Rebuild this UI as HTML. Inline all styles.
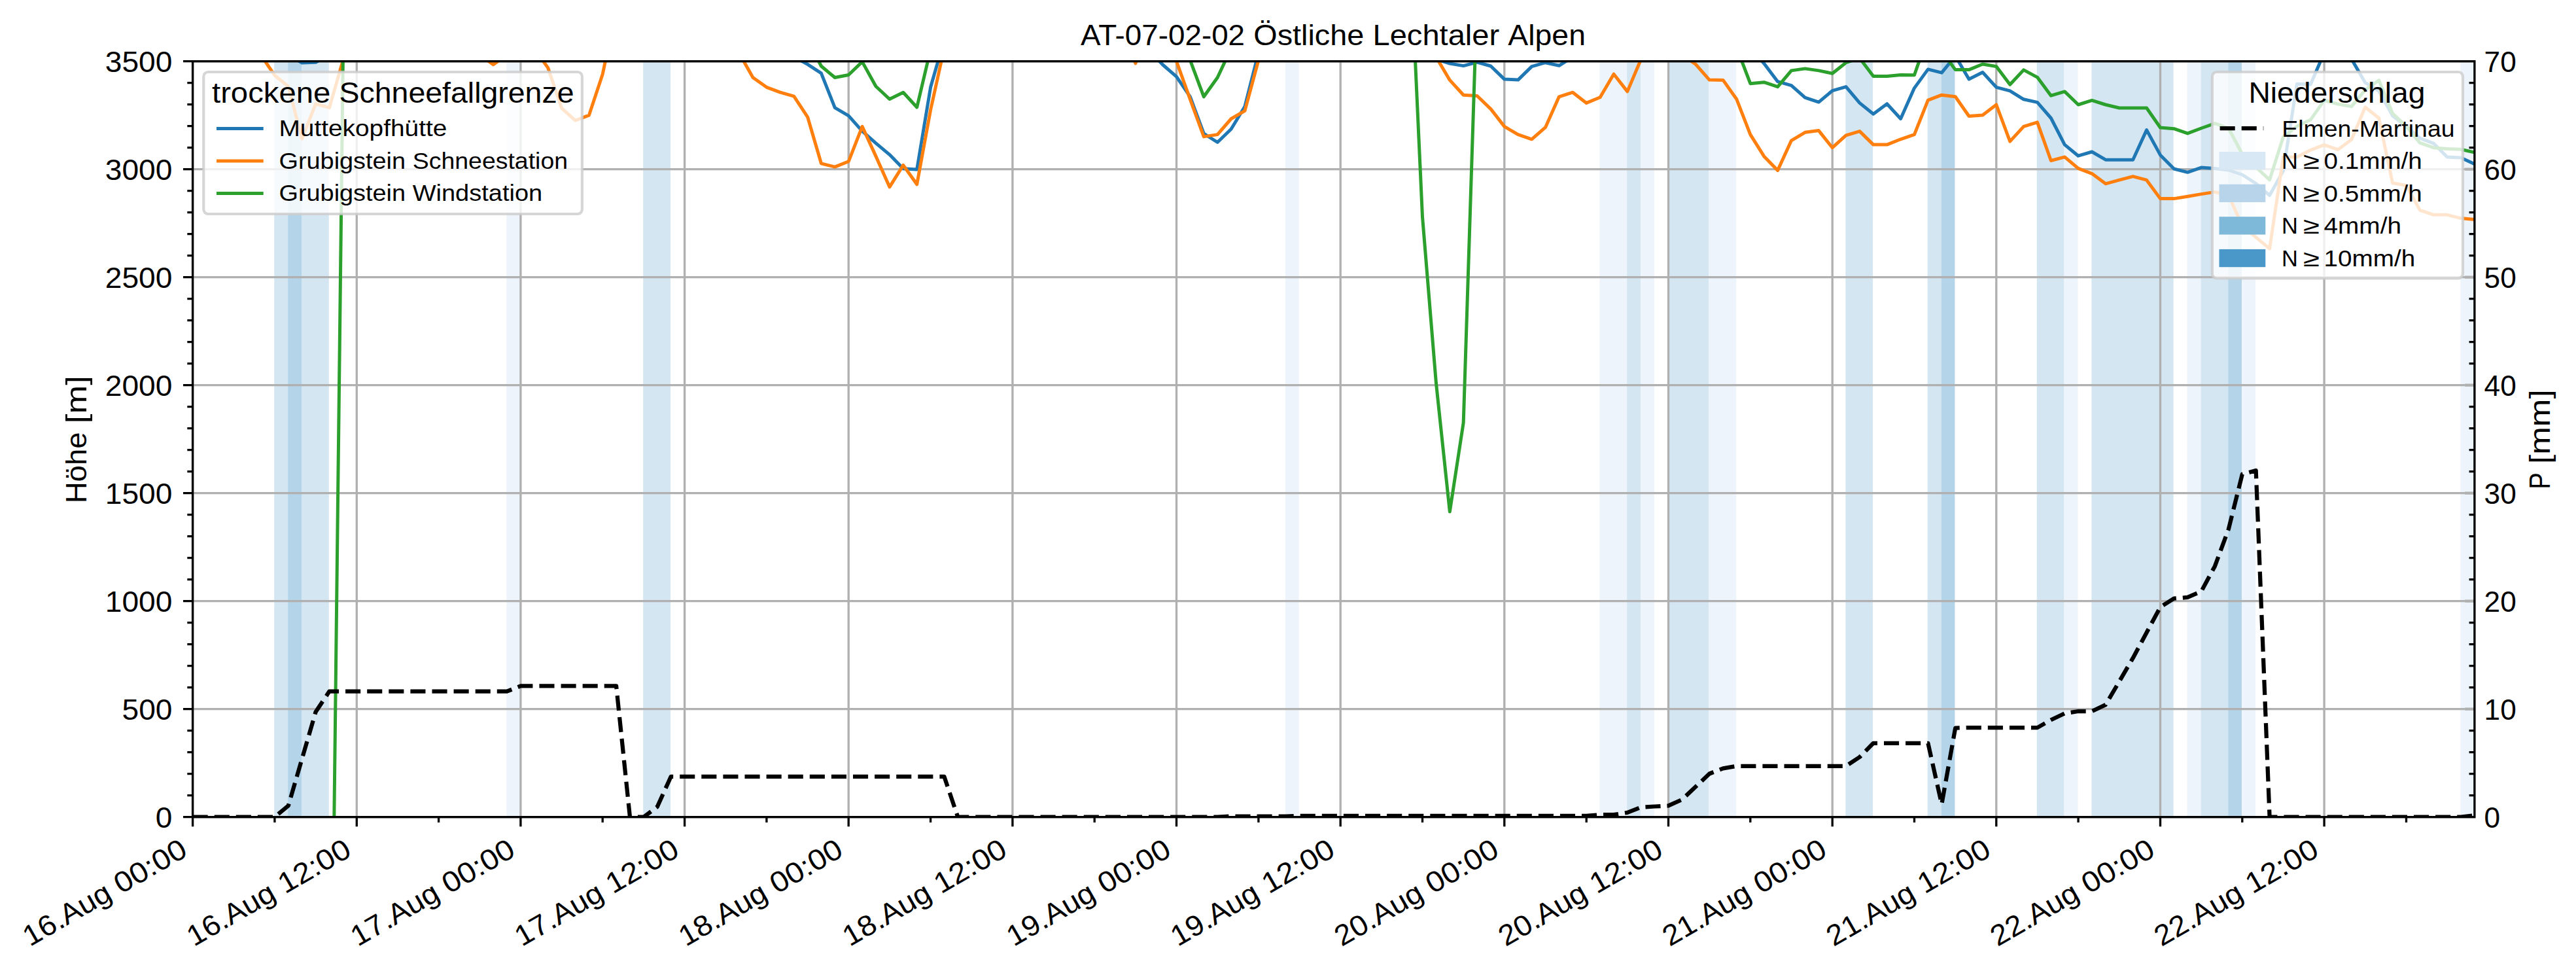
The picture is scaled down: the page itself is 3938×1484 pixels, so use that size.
<!DOCTYPE html><html><head><meta charset="utf-8"><style>html,body{margin:0;padding:0;background:#fff;overflow:hidden}svg{display:block}text{font-family:"Liberation Sans", sans-serif}</style></head><body>
<svg width="3938" height="1484" viewBox="0 0 3938 1484">
<rect width="3938" height="1484" fill="#fff"/>
<defs><clipPath id="ax"><rect x="294.6" y="93.7" width="3488.3" height="1155.0"/></clipPath></defs>
<rect x="419.23" y="93.7" width="20.89" height="1155.0" fill="#d5e6f3"/>
<rect x="440.12" y="93.7" width="20.89" height="1155.0" fill="#b3d4e9"/>
<rect x="461.00" y="93.7" width="41.78" height="1155.0" fill="#d5e6f3"/>
<rect x="774.32" y="93.7" width="20.89" height="1155.0" fill="#eef4fb"/>
<rect x="983.20" y="93.7" width="41.78" height="1155.0" fill="#d5e6f3"/>
<rect x="1964.94" y="93.7" width="20.89" height="1155.0" fill="#eef4fb"/>
<rect x="2445.36" y="93.7" width="41.78" height="1155.0" fill="#eef4fb"/>
<rect x="2487.14" y="93.7" width="20.89" height="1155.0" fill="#d5e6f3"/>
<rect x="2508.03" y="93.7" width="20.89" height="1155.0" fill="#eef4fb"/>
<rect x="2549.80" y="93.7" width="62.66" height="1155.0" fill="#d5e6f3"/>
<rect x="2612.47" y="93.7" width="41.78" height="1155.0" fill="#eef4fb"/>
<rect x="2821.35" y="93.7" width="41.78" height="1155.0" fill="#d5e6f3"/>
<rect x="2946.68" y="93.7" width="20.89" height="1155.0" fill="#d5e6f3"/>
<rect x="2967.56" y="93.7" width="20.89" height="1155.0" fill="#b3d4e9"/>
<rect x="3113.78" y="93.7" width="41.78" height="1155.0" fill="#d5e6f3"/>
<rect x="3155.56" y="93.7" width="20.89" height="1155.0" fill="#eef4fb"/>
<rect x="3197.33" y="93.7" width="125.33" height="1155.0" fill="#d5e6f3"/>
<rect x="3343.55" y="93.7" width="20.89" height="1155.0" fill="#eef4fb"/>
<rect x="3364.44" y="93.7" width="41.78" height="1155.0" fill="#d5e6f3"/>
<rect x="3406.21" y="93.7" width="20.89" height="1155.0" fill="#b3d4e9"/>
<rect x="3427.10" y="93.7" width="20.89" height="1155.0" fill="#eef4fb"/>
<rect x="3761.31" y="93.7" width="20.89" height="1155.0" fill="#eef4fb"/>
<path d="M294.6,93.7V1248.7M545.3,93.7V1248.7M795.9,93.7V1248.7M1046.6,93.7V1248.7M1297.2,93.7V1248.7M1547.9,93.7V1248.7M1798.5,93.7V1248.7M2049.2,93.7V1248.7M2299.8,93.7V1248.7M2550.5,93.7V1248.7M2801.2,93.7V1248.7M3051.8,93.7V1248.7M3302.5,93.7V1248.7M3553.1,93.7V1248.7M294.6,1248.7H3782.9M294.6,1083.7H3782.9M294.6,918.7H3782.9M294.6,753.7H3782.9M294.6,588.7H3782.9M294.6,423.7H3782.9M294.6,258.7H3782.9M294.6,93.7H3782.9" stroke="#b0b0b0" stroke-width="3.33" fill="none"/>
<g clip-path="url(#ax)" fill="none" stroke-width="5.00" stroke-linejoin="round" stroke-linecap="square">
<path d="M294.6,60.7L315.5,60.7L336.4,60.7L357.3,60.7L378.2,60.7L399.0,60.7L419.9,60.7L440.8,83.8L461.7,96.0L482.6,95.3L503.5,83.8L524.4,60.7L545.3,60.7L566.1,60.7L587.0,60.7L607.9,60.7L628.8,60.7L649.7,60.7L670.6,60.7L691.5,60.7L712.4,60.7L733.2,60.7L754.1,60.7L775.0,60.7L795.9,60.7L816.8,60.7L837.7,60.7L858.6,60.7L879.5,60.7L900.4,60.7L921.2,60.7L942.1,60.7L963.0,60.7L983.9,60.7L1004.8,60.7L1025.7,60.7L1046.6,60.7L1067.5,60.7L1088.3,60.7L1109.2,60.7L1130.1,60.7L1151.0,60.7L1171.9,60.7L1192.8,60.7L1213.7,86.8L1234.6,98.3L1255.4,111.8L1276.3,164.7L1297.2,176.9L1318.1,200.3L1339.0,218.8L1359.9,236.3L1380.8,257.7L1401.7,259.0L1422.6,133.3L1443.4,60.7L1464.3,60.7L1485.2,60.7L1506.1,60.7L1527.0,60.7L1547.9,60.7L1568.8,60.7L1589.7,60.7L1610.5,60.7L1631.4,60.7L1652.3,60.7L1673.2,60.7L1694.1,60.7L1715.0,60.7L1735.9,60.7L1756.8,77.2L1777.6,99.0L1798.5,117.1L1819.4,147.8L1840.3,204.2L1861.2,217.5L1882.1,197.3L1903.0,162.7L1923.9,80.5L1944.8,60.7L1965.6,60.7L1986.5,60.7L2007.4,60.7L2028.3,60.7L2049.2,60.7L2070.1,60.7L2091.0,60.7L2111.9,60.7L2132.7,60.7L2153.6,60.7L2174.5,60.7L2195.4,90.4L2216.3,97.0L2237.2,100.6L2258.1,95.0L2279.0,101.0L2299.8,121.1L2320.7,122.1L2341.6,101.6L2362.5,95.7L2383.4,100.3L2404.3,87.1L2425.2,60.7L2446.1,60.7L2467.0,60.7L2487.8,60.7L2508.7,60.7L2529.6,60.7L2550.5,60.7L2571.4,60.7L2592.3,60.7L2613.2,60.7L2634.1,60.7L2654.9,60.7L2675.8,73.9L2696.7,97.0L2717.6,124.7L2738.5,130.7L2759.4,149.1L2780.3,156.1L2801.2,138.6L2822.0,132.6L2842.9,157.4L2863.8,174.2L2884.7,158.7L2905.6,181.5L2926.5,134.6L2947.4,105.9L2968.3,111.2L2989.2,85.5L3010.0,121.1L3030.9,110.5L3051.8,133.3L3072.7,138.9L3093.6,151.8L3114.5,156.4L3135.4,180.5L3156.3,221.1L3177.1,238.2L3198.0,232.0L3218.9,244.2L3239.8,244.2L3260.7,244.2L3281.6,198.6L3302.5,236.9L3323.4,258.0L3344.2,263.3L3365.1,256.1L3386.0,257.4L3406.9,260.0L3427.8,267.0L3448.7,280.5L3469.6,298.6L3490.5,261.0L3511.4,128.3L3532.2,129.0L3553.1,80.5L3574.0,60.7L3594.9,90.4L3615.8,126.4L3636.7,139.2L3657.6,176.9L3678.5,193.0L3699.3,211.2L3720.2,219.1L3741.1,239.9L3762.0,240.9L3782.9,250.8" stroke="#1f77b4"/>
<path d="M294.6,60.7L315.5,60.7L336.4,60.7L357.3,60.7L378.2,60.7L399.0,84.5L419.9,115.2L440.8,132.0L461.7,212.2L482.6,158.7L503.5,164.7L524.4,92.0L545.3,60.7L566.1,60.7L587.0,60.7L607.9,60.7L628.8,60.7L649.7,60.7L670.6,60.7L691.5,60.7L712.4,60.7L733.2,83.8L754.1,98.7L775.0,83.8L795.9,60.7L816.8,74.6L837.7,103.6L858.6,165.3L879.5,184.1L900.4,176.2L921.2,113.5L942.1,14.5L963.0,60.7L983.9,60.7L1004.8,60.7L1025.7,60.7L1046.6,60.7L1067.5,60.7L1088.3,60.7L1109.2,60.7L1130.1,81.5L1151.0,118.5L1171.9,133.3L1192.8,141.2L1213.7,147.2L1234.6,178.8L1255.4,249.8L1276.3,255.1L1297.2,246.8L1318.1,193.4L1339.0,238.9L1359.9,285.8L1380.8,252.4L1401.7,281.8L1422.6,168.0L1443.4,73.9L1464.3,60.7L1485.2,60.7L1506.1,60.7L1527.0,60.7L1547.9,60.7L1568.8,60.7L1589.7,60.7L1610.5,60.7L1631.4,60.7L1652.3,60.7L1673.2,60.7L1694.1,60.7L1715.0,34.3L1735.9,97.0L1756.8,34.3L1777.6,80.5L1798.5,93.7L1819.4,151.8L1840.3,208.9L1861.2,205.6L1882.1,181.5L1903.0,169.3L1923.9,92.0L1944.8,60.7L1965.6,60.7L1986.5,60.7L2007.4,60.7L2028.3,60.7L2049.2,60.7L2070.1,60.7L2091.0,60.7L2111.9,60.7L2132.7,60.7L2153.6,60.7L2174.5,60.7L2195.4,87.1L2216.3,122.4L2237.2,145.2L2258.1,146.5L2279.0,166.6L2299.8,193.4L2320.7,205.6L2341.6,212.8L2362.5,194.7L2383.4,147.8L2404.3,141.2L2425.2,157.4L2446.1,148.8L2467.0,113.2L2487.8,139.9L2508.7,90.4L2529.6,60.7L2550.5,60.7L2571.4,83.8L2592.3,98.3L2613.2,122.1L2634.1,122.4L2654.9,151.8L2675.8,205.6L2696.7,238.9L2717.6,260.4L2738.5,214.8L2759.4,202.3L2780.3,199.6L2801.2,225.7L2822.0,206.9L2842.9,200.6L2863.8,221.1L2884.7,221.1L2905.6,212.8L2926.5,205.6L2947.4,153.1L2968.3,145.2L2989.2,147.8L3010.0,177.5L3030.9,175.9L3051.8,160.0L3072.7,216.1L3093.6,193.4L3114.5,186.8L3135.4,245.5L3156.3,239.9L3177.1,257.4L3198.0,265.3L3218.9,280.8L3239.8,275.2L3260.7,269.6L3281.6,275.2L3302.5,303.6L3323.4,303.6L3344.2,300.3L3365.1,296.6L3386.0,293.4L3406.9,298.3L3427.8,345.2L3448.7,362.6L3469.6,380.1L3490.5,239.9L3511.4,239.9L3532.2,229.3L3553.1,221.4L3574.0,228.7L3594.9,213.2L3615.8,163.7L3636.7,180.5L3657.6,279.8L3678.5,283.5L3699.3,321.1L3720.2,328.3L3741.1,328.3L3762.0,333.6L3782.9,335.6" stroke="#ff7f0e"/>
<path d="M503.5,1875.7L524.4,87.1L545.3,60.7L566.1,60.7L587.0,60.7L607.9,60.7L628.8,60.7L649.7,60.7L670.6,60.7L691.5,60.7L712.4,60.7L733.2,60.7L754.1,60.7L775.0,60.7L795.9,60.7L816.8,60.7L837.7,60.7L858.6,60.7L879.5,60.7L900.4,60.7L921.2,60.7L942.1,60.7L963.0,60.7L983.9,60.7L1004.8,60.7L1025.7,60.7L1046.6,60.7L1067.5,60.7L1088.3,60.7L1109.2,60.7L1130.1,60.7L1151.0,60.7L1171.9,60.7L1192.8,60.7L1213.7,60.7L1234.6,60.7L1255.4,101.0L1276.3,118.5L1297.2,114.5L1318.1,94.4L1339.0,132.0L1359.9,151.5L1380.8,141.2L1401.7,164.0L1422.6,75.5L1443.4,60.7L1464.3,60.7L1485.2,60.7L1506.1,60.7L1527.0,60.7L1547.9,60.7L1568.8,60.7L1589.7,60.7L1610.5,60.7L1631.4,60.7L1652.3,60.7L1673.2,60.7L1694.1,60.7L1715.0,60.7L1735.9,60.7L1756.8,60.7L1777.6,60.7L1798.5,44.2L1819.4,92.0L1840.3,147.8L1861.2,118.5L1882.1,73.9L1903.0,60.7L1923.9,60.7L1944.8,60.7L1965.6,60.7L1986.5,60.7L2007.4,60.7L2028.3,60.7L2049.2,60.7L2070.1,60.7L2091.0,60.7L2111.9,60.7L2132.7,-170.3L2153.6,-124.1L2174.5,331.3L2195.4,585.1L2216.3,782.1L2237.2,645.8L2258.1,-8.9L2279.0,60.7L2299.8,60.7L2320.7,60.7L2341.6,60.7L2362.5,60.7L2383.4,60.7L2404.3,60.7L2425.2,60.7L2446.1,60.7L2467.0,60.7L2487.8,60.7L2508.7,60.7L2529.6,60.7L2550.5,60.7L2571.4,60.7L2592.3,60.7L2613.2,60.7L2634.1,60.7L2654.9,72.9L2675.8,127.7L2696.7,125.7L2717.6,132.6L2738.5,107.9L2759.4,104.9L2780.3,107.9L2801.2,112.2L2822.0,95.7L2842.9,88.8L2863.8,116.5L2884.7,116.5L2905.6,114.5L2926.5,114.8L2947.4,54.4L2968.3,77.9L2989.2,106.6L3010.0,106.6L3030.9,98.0L3051.8,101.6L3072.7,129.3L3093.6,106.9L3114.5,118.1L3135.4,146.2L3156.3,139.9L3177.1,160.0L3198.0,153.4L3218.9,160.0L3239.8,165.0L3260.7,165.0L3281.6,165.0L3302.5,195.0L3323.4,196.7L3344.2,203.9L3365.1,196.0L3386.0,188.7L3406.9,196.0L3427.8,235.6L3448.7,255.4L3469.6,274.9L3490.5,209.2L3511.4,193.0L3532.2,183.1L3553.1,153.4L3574.0,159.0L3594.9,162.7L3615.8,137.3L3636.7,122.7L3657.6,173.2L3678.5,193.0L3699.3,218.4L3720.2,225.7L3741.1,227.4L3762.0,228.3L3782.9,233.0" stroke="#2ca02c"/>
</g>
<rect x="311.3" y="110.0" width="578.6" height="217.0" rx="6.9" ry="6.9" fill="#fff" fill-opacity="0.8" stroke="#ccc" stroke-opacity="0.8" stroke-width="4.17"/>
<text x="324.00" y="157.00" font-size="44.15" textLength="181.28" lengthAdjust="spacingAndGlyphs">trockene</text>
<text x="518.52" y="157.00" font-size="44.15" textLength="359.01" lengthAdjust="spacingAndGlyphs">Schneefallgrenze</text>
<path d="M333.5,196.4H400.2" stroke="#1f77b4" stroke-width="5.00" stroke-linecap="square"/>
<text x="426.50" y="208.30" font-size="35.32" textLength="256.84" lengthAdjust="spacingAndGlyphs">Muttekopfhütte</text>
<path d="M333.5,245.9H400.2" stroke="#ff7f0e" stroke-width="5.00" stroke-linecap="square"/>
<text x="426.50" y="257.80" font-size="35.32" textLength="193.57" lengthAdjust="spacingAndGlyphs">Grubigstein</text>
<text x="630.67" y="257.80" font-size="35.32" textLength="237.47" lengthAdjust="spacingAndGlyphs">Schneestation</text>
<path d="M333.5,295.4H400.2" stroke="#2ca02c" stroke-width="5.00" stroke-linecap="square"/>
<text x="426.50" y="307.30" font-size="35.32" textLength="193.57" lengthAdjust="spacingAndGlyphs">Grubigstein</text>
<text x="630.67" y="307.30" font-size="35.32" textLength="198.49" lengthAdjust="spacingAndGlyphs">Windstation</text>
<g clip-path="url(#ax)"><path d="M294.6,1248.7L315.5,1248.7L336.4,1248.7L357.3,1248.7L378.2,1248.7L399.0,1248.7L419.9,1248.7L440.8,1231.4L461.7,1159.6L482.6,1088.0L503.5,1056.6L524.4,1056.6L545.3,1056.6L566.1,1056.6L587.0,1056.6L607.9,1056.6L628.8,1056.6L649.7,1056.6L670.6,1056.6L691.5,1056.6L712.4,1056.6L733.2,1056.6L754.1,1056.6L775.0,1056.6L795.9,1048.4L816.8,1048.4L837.7,1048.4L858.6,1048.4L879.5,1048.4L900.4,1048.4L921.2,1048.4L942.1,1048.4L963.0,1248.7L983.9,1248.7L1004.8,1233.0L1025.7,1186.8L1046.6,1186.8L1067.5,1186.8L1088.3,1186.8L1109.2,1186.8L1130.1,1186.8L1151.0,1186.8L1171.9,1186.8L1192.8,1186.8L1213.7,1186.8L1234.6,1186.8L1255.4,1186.8L1276.3,1186.8L1297.2,1186.8L1318.1,1186.8L1339.0,1186.8L1359.9,1186.8L1380.8,1186.8L1401.7,1186.8L1422.6,1186.8L1443.4,1186.8L1464.3,1248.7L1485.2,1248.7L1506.1,1248.7L1527.0,1248.7L1547.9,1248.7L1568.8,1248.7L1589.7,1248.7L1610.5,1248.7L1631.4,1248.7L1652.3,1248.7L1673.2,1248.7L1694.1,1248.7L1715.0,1248.7L1735.9,1248.7L1756.8,1248.7L1777.6,1248.7L1798.5,1248.7L1819.4,1248.7L1840.3,1248.7L1861.2,1248.7L1882.1,1247.5L1903.0,1247.5L1923.9,1247.5L1944.8,1247.5L1965.6,1247.5L1986.5,1246.9L2007.4,1246.9L2028.3,1246.9L2049.2,1246.9L2070.1,1246.9L2091.0,1246.9L2111.9,1246.9L2132.7,1246.9L2153.6,1246.9L2174.5,1246.9L2195.4,1246.9L2216.3,1246.9L2237.2,1246.9L2258.1,1246.9L2279.0,1246.9L2299.8,1246.9L2320.7,1246.9L2341.6,1246.9L2362.5,1246.9L2383.4,1246.9L2404.3,1246.9L2425.2,1246.9L2446.1,1245.1L2467.0,1245.1L2487.8,1241.9L2508.7,1233.7L2529.6,1232.5L2550.5,1231.4L2571.4,1222.0L2592.3,1202.3L2613.2,1182.5L2634.1,1174.3L2654.9,1170.8L2675.8,1170.8L2696.7,1170.8L2717.6,1170.8L2738.5,1170.8L2759.4,1170.8L2780.3,1170.8L2801.2,1170.8L2822.0,1170.8L2842.9,1157.0L2863.8,1135.8L2884.7,1135.8L2905.6,1135.8L2926.5,1135.8L2947.4,1135.8L2968.3,1229.1L2989.2,1112.6L3010.0,1112.1L3030.9,1112.1L3051.8,1112.1L3072.7,1112.1L3093.6,1112.1L3114.5,1112.1L3135.4,1100.2L3156.3,1090.3L3177.1,1087.0L3198.0,1087.0L3218.9,1077.1L3239.8,1041.5L3260.7,1005.7L3281.6,966.7L3302.5,927.9L3323.4,914.7L3344.2,912.9L3365.1,904.0L3386.0,865.2L3406.9,808.5L3427.8,724.8L3448.7,719.1L3469.6,1248.7L3490.5,1248.7L3511.4,1248.7L3532.2,1248.7L3553.1,1248.7L3574.0,1248.7L3594.9,1248.7L3615.8,1248.7L3636.7,1248.7L3657.6,1248.7L3678.5,1248.7L3699.3,1248.7L3720.2,1248.7L3741.1,1248.7L3762.0,1248.7L3782.9,1246.1" fill="none" stroke="#000" stroke-width="6.25" stroke-dasharray="23.1,10" stroke-linejoin="round"/></g>
<rect x="3381.9" y="110.0" width="383.1" height="315.3" rx="6.9" ry="6.9" fill="#fff" fill-opacity="0.8" stroke="#ccc" stroke-opacity="0.8" stroke-width="4.17"/>
<text x="3437.4" y="156.7" font-size="44.15" textLength="270.0" lengthAdjust="spacingAndGlyphs">Niederschlag</text>
<path d="M3393.6,196.1H3460.3" stroke="#000" stroke-width="6.25" stroke-dasharray="23.1,10"/>
<text x="3488.2" y="208.6" font-size="35.32" textLength="264.4" lengthAdjust="spacingAndGlyphs">Elmen-Martinau</text>
<rect x="3392.5" y="232.0" width="70.8" height="27.3" fill="#d9e8f5"/>
<text x="3488.0" y="258.2" font-size="35.32" textLength="24.9" lengthAdjust="spacingAndGlyphs">N</text>
<text x="3521.0" y="258.2" font-size="35.32" textLength="25.0" lengthAdjust="spacingAndGlyphs">≥</text>
<text x="3552.5" y="258.2" font-size="35.32" textLength="150.3" lengthAdjust="spacingAndGlyphs">0.1mm/h</text>
<rect x="3392.5" y="281.7" width="70.8" height="27.3" fill="#b7d4ea"/>
<text x="3488.0" y="307.8" font-size="35.32" textLength="24.9" lengthAdjust="spacingAndGlyphs">N</text>
<text x="3521.0" y="307.8" font-size="35.32" textLength="25.0" lengthAdjust="spacingAndGlyphs">≥</text>
<text x="3552.5" y="307.8" font-size="35.32" textLength="150.3" lengthAdjust="spacingAndGlyphs">0.5mm/h</text>
<rect x="3392.5" y="331.2" width="70.8" height="27.3" fill="#7fb9da"/>
<text x="3488.0" y="357.4" font-size="35.32" textLength="24.9" lengthAdjust="spacingAndGlyphs">N</text>
<text x="3521.0" y="357.4" font-size="35.32" textLength="25.0" lengthAdjust="spacingAndGlyphs">≥</text>
<text x="3552.5" y="357.4" font-size="35.32" textLength="118.5" lengthAdjust="spacingAndGlyphs">4mm/h</text>
<rect x="3392.5" y="380.9" width="70.8" height="27.3" fill="#4a98c9"/>
<text x="3488.0" y="407.0" font-size="35.32" textLength="24.9" lengthAdjust="spacingAndGlyphs">N</text>
<text x="3521.0" y="407.0" font-size="35.32" textLength="25.0" lengthAdjust="spacingAndGlyphs">≥</text>
<text x="3552.5" y="407.0" font-size="35.32" textLength="139.7" lengthAdjust="spacingAndGlyphs">10mm/h</text>
<path d="M3768.3,1083.7H3782.9M3768.3,918.7H3782.9M3768.3,753.7H3782.9M3768.3,588.7H3782.9M3768.3,423.7H3782.9M3768.3,258.7H3782.9" stroke="#b0b0b0" stroke-width="4.2" fill="none"/>
<path d="M280.0,1248.7H294.6M286.3,1215.7H294.6M286.3,1182.7H294.6M286.3,1149.7H294.6M286.3,1116.7H294.6M280.0,1083.7H294.6M286.3,1050.7H294.6M286.3,1017.7H294.6M286.3,984.7H294.6M286.3,951.7H294.6M280.0,918.7H294.6M286.3,885.7H294.6M286.3,852.7H294.6M286.3,819.7H294.6M286.3,786.7H294.6M280.0,753.7H294.6M286.3,720.7H294.6M286.3,687.7H294.6M286.3,654.7H294.6M286.3,621.7H294.6M280.0,588.7H294.6M286.3,555.7H294.6M286.3,522.7H294.6M286.3,489.7H294.6M286.3,456.7H294.6M280.0,423.7H294.6M286.3,390.7H294.6M286.3,357.7H294.6M286.3,324.7H294.6M286.3,291.7H294.6M280.0,258.7H294.6M286.3,225.7H294.6M286.3,192.7H294.6M286.3,159.7H294.6M286.3,126.7H294.6M280.0,93.7H294.6M3774.6,1215.7H3782.9M3774.6,1182.7H3782.9M3774.6,1149.7H3782.9M3774.6,1116.7H3782.9M3774.6,1050.7H3782.9M3774.6,1017.7H3782.9M3774.6,984.7H3782.9M3774.6,951.7H3782.9M3774.6,885.7H3782.9M3774.6,852.7H3782.9M3774.6,819.7H3782.9M3774.6,786.7H3782.9M3774.6,720.7H3782.9M3774.6,687.7H3782.9M3774.6,654.7H3782.9M3774.6,621.7H3782.9M3774.6,555.7H3782.9M3774.6,522.7H3782.9M3774.6,489.7H3782.9M3774.6,456.7H3782.9M3774.6,390.7H3782.9M3774.6,357.7H3782.9M3774.6,324.7H3782.9M3774.6,291.7H3782.9M3774.6,225.7H3782.9M3774.6,192.7H3782.9M3774.6,159.7H3782.9M3774.6,126.7H3782.9M294.6,1248.7V1263.3M419.9,1248.7V1257.0M545.3,1248.7V1263.3M670.6,1248.7V1257.0M795.9,1248.7V1263.3M921.2,1248.7V1257.0M1046.6,1248.7V1263.3M1171.9,1248.7V1257.0M1297.2,1248.7V1263.3M1422.6,1248.7V1257.0M1547.9,1248.7V1263.3M1673.2,1248.7V1257.0M1798.5,1248.7V1263.3M1923.9,1248.7V1257.0M2049.2,1248.7V1263.3M2174.5,1248.7V1257.0M2299.8,1248.7V1263.3M2425.2,1248.7V1257.0M2550.5,1248.7V1263.3M2675.8,1248.7V1257.0M2801.2,1248.7V1263.3M2926.5,1248.7V1257.0M3051.8,1248.7V1263.3M3177.1,1248.7V1257.0M3302.5,1248.7V1263.3M3427.8,1248.7V1257.0M3553.1,1248.7V1263.3M3678.5,1248.7V1257.0" stroke="#000" stroke-width="3.33" fill="none"/>
<rect x="294.6" y="93.7" width="3488.3" height="1155.0" fill="none" stroke="#000" stroke-width="3.33" stroke-linejoin="miter"/>
<text x="263.4" y="1265.1" font-size="44.15" textLength="25.6" lengthAdjust="spacingAndGlyphs" text-anchor="end">0</text>
<text x="263.4" y="1100.1" font-size="44.15" textLength="76.9" lengthAdjust="spacingAndGlyphs" text-anchor="end">500</text>
<text x="263.4" y="935.1" font-size="44.15" textLength="102.6" lengthAdjust="spacingAndGlyphs" text-anchor="end">1000</text>
<text x="263.4" y="770.1" font-size="44.15" textLength="102.6" lengthAdjust="spacingAndGlyphs" text-anchor="end">1500</text>
<text x="263.4" y="605.1" font-size="44.15" textLength="102.6" lengthAdjust="spacingAndGlyphs" text-anchor="end">2000</text>
<text x="263.4" y="440.1" font-size="44.15" textLength="102.6" lengthAdjust="spacingAndGlyphs" text-anchor="end">2500</text>
<text x="263.4" y="275.1" font-size="44.15" textLength="102.6" lengthAdjust="spacingAndGlyphs" text-anchor="end">3000</text>
<text x="263.4" y="110.1" font-size="44.15" textLength="102.6" lengthAdjust="spacingAndGlyphs" text-anchor="end">3500</text>
<text x="3797.6" y="1265.1" font-size="44.15" textLength="24.6" lengthAdjust="spacingAndGlyphs">0</text>
<text x="3797.6" y="1100.1" font-size="44.15" textLength="49.2" lengthAdjust="spacingAndGlyphs">10</text>
<text x="3797.6" y="935.1" font-size="44.15" textLength="49.2" lengthAdjust="spacingAndGlyphs">20</text>
<text x="3797.6" y="770.1" font-size="44.15" textLength="49.2" lengthAdjust="spacingAndGlyphs">30</text>
<text x="3797.6" y="605.1" font-size="44.15" textLength="49.2" lengthAdjust="spacingAndGlyphs">40</text>
<text x="3797.6" y="440.1" font-size="44.15" textLength="49.2" lengthAdjust="spacingAndGlyphs">50</text>
<text x="3797.6" y="275.1" font-size="44.15" textLength="49.2" lengthAdjust="spacingAndGlyphs">60</text>
<text x="3797.6" y="110.1" font-size="44.15" textLength="49.2" lengthAdjust="spacingAndGlyphs">70</text>
<g transform="translate(131.5,671.7) rotate(-90)"><text x="-97.61" y="0.00" font-size="44.15" textLength="108.87" lengthAdjust="spacingAndGlyphs">Höhe</text><text x="24.51" y="0.00" font-size="44.15" textLength="73.10" lengthAdjust="spacingAndGlyphs">[m]</text></g>
<g transform="translate(3897.7,671.4) rotate(-90)"><text x="-76.03" y="0.00" font-size="44.15" textLength="25.13" lengthAdjust="spacingAndGlyphs">P</text><text x="-37.66" y="0.00" font-size="44.15" textLength="113.69" lengthAdjust="spacingAndGlyphs">[mm]</text></g>
<text x="1652.00" y="68.90" font-size="44.15" textLength="251.06" lengthAdjust="spacingAndGlyphs">AT-07-02-02</text>
<text x="1916.30" y="68.90" font-size="44.15" textLength="168.95" lengthAdjust="spacingAndGlyphs">Östliche</text>
<text x="2098.49" y="68.90" font-size="44.15" textLength="193.65" lengthAdjust="spacingAndGlyphs">Lechtaler</text>
<text x="2305.38" y="68.90" font-size="44.15" textLength="118.57" lengthAdjust="spacingAndGlyphs">Alpen</text>
<g transform="translate(289.1,1306.7) rotate(-30)"><text x="-280.95" y="0.00" font-size="44.15" textLength="147.62" lengthAdjust="spacingAndGlyphs">16.Aug</text><text x="-120.08" y="0.00" font-size="44.15" textLength="120.08" lengthAdjust="spacingAndGlyphs">00:00</text></g>
<g transform="translate(539.8,1306.7) rotate(-30)"><text x="-280.95" y="0.00" font-size="44.15" textLength="147.62" lengthAdjust="spacingAndGlyphs">16.Aug</text><text x="-120.08" y="0.00" font-size="44.15" textLength="120.08" lengthAdjust="spacingAndGlyphs">12:00</text></g>
<g transform="translate(790.4,1306.7) rotate(-30)"><text x="-280.95" y="0.00" font-size="44.15" textLength="147.62" lengthAdjust="spacingAndGlyphs">17.Aug</text><text x="-120.08" y="0.00" font-size="44.15" textLength="120.08" lengthAdjust="spacingAndGlyphs">00:00</text></g>
<g transform="translate(1041.1,1306.7) rotate(-30)"><text x="-280.95" y="0.00" font-size="44.15" textLength="147.62" lengthAdjust="spacingAndGlyphs">17.Aug</text><text x="-120.08" y="0.00" font-size="44.15" textLength="120.08" lengthAdjust="spacingAndGlyphs">12:00</text></g>
<g transform="translate(1291.7,1306.7) rotate(-30)"><text x="-280.95" y="0.00" font-size="44.15" textLength="147.62" lengthAdjust="spacingAndGlyphs">18.Aug</text><text x="-120.08" y="0.00" font-size="44.15" textLength="120.08" lengthAdjust="spacingAndGlyphs">00:00</text></g>
<g transform="translate(1542.4,1306.7) rotate(-30)"><text x="-280.95" y="0.00" font-size="44.15" textLength="147.62" lengthAdjust="spacingAndGlyphs">18.Aug</text><text x="-120.08" y="0.00" font-size="44.15" textLength="120.08" lengthAdjust="spacingAndGlyphs">12:00</text></g>
<g transform="translate(1793.0,1306.7) rotate(-30)"><text x="-280.95" y="0.00" font-size="44.15" textLength="147.62" lengthAdjust="spacingAndGlyphs">19.Aug</text><text x="-120.08" y="0.00" font-size="44.15" textLength="120.08" lengthAdjust="spacingAndGlyphs">00:00</text></g>
<g transform="translate(2043.7,1306.7) rotate(-30)"><text x="-280.95" y="0.00" font-size="44.15" textLength="147.62" lengthAdjust="spacingAndGlyphs">19.Aug</text><text x="-120.08" y="0.00" font-size="44.15" textLength="120.08" lengthAdjust="spacingAndGlyphs">12:00</text></g>
<g transform="translate(2294.3,1306.7) rotate(-30)"><text x="-280.95" y="0.00" font-size="44.15" textLength="147.62" lengthAdjust="spacingAndGlyphs">20.Aug</text><text x="-120.08" y="0.00" font-size="44.15" textLength="120.08" lengthAdjust="spacingAndGlyphs">00:00</text></g>
<g transform="translate(2545.0,1306.7) rotate(-30)"><text x="-280.95" y="0.00" font-size="44.15" textLength="147.62" lengthAdjust="spacingAndGlyphs">20.Aug</text><text x="-120.08" y="0.00" font-size="44.15" textLength="120.08" lengthAdjust="spacingAndGlyphs">12:00</text></g>
<g transform="translate(2795.7,1306.7) rotate(-30)"><text x="-280.95" y="0.00" font-size="44.15" textLength="147.62" lengthAdjust="spacingAndGlyphs">21.Aug</text><text x="-120.08" y="0.00" font-size="44.15" textLength="120.08" lengthAdjust="spacingAndGlyphs">00:00</text></g>
<g transform="translate(3046.3,1306.7) rotate(-30)"><text x="-280.95" y="0.00" font-size="44.15" textLength="147.62" lengthAdjust="spacingAndGlyphs">21.Aug</text><text x="-120.08" y="0.00" font-size="44.15" textLength="120.08" lengthAdjust="spacingAndGlyphs">12:00</text></g>
<g transform="translate(3297.0,1306.7) rotate(-30)"><text x="-280.95" y="0.00" font-size="44.15" textLength="147.62" lengthAdjust="spacingAndGlyphs">22.Aug</text><text x="-120.08" y="0.00" font-size="44.15" textLength="120.08" lengthAdjust="spacingAndGlyphs">00:00</text></g>
<g transform="translate(3547.6,1306.7) rotate(-30)"><text x="-280.95" y="0.00" font-size="44.15" textLength="147.62" lengthAdjust="spacingAndGlyphs">22.Aug</text><text x="-120.08" y="0.00" font-size="44.15" textLength="120.08" lengthAdjust="spacingAndGlyphs">12:00</text></g>
</svg></body></html>
